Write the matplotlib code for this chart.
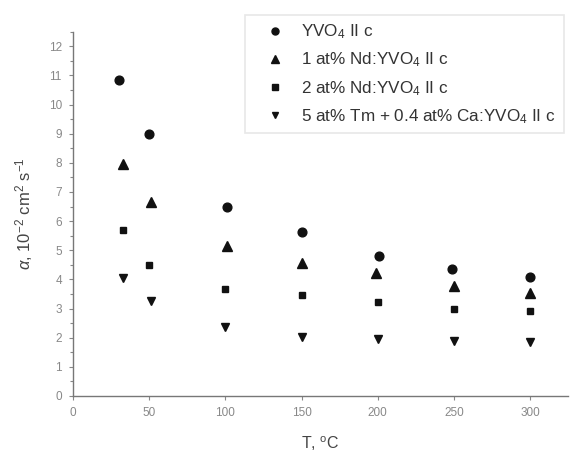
import matplotlib
matplotlib.use("Agg")
import matplotlib.pyplot as plt
from matplotlib.ticker import MultipleLocator

plt.rcParams['font.family'] = ['Liberation Sans', 'DejaVu Sans']
plt.rcParams['mathtext.fontset'] = 'custom'
plt.rcParams['mathtext.rm'] = 'Liberation Sans'
plt.rcParams['mathtext.it'] = 'Liberation Sans:italic'

# Thermal diffusivity vs temperature
t_yvo4 = [30, 50, 101, 150, 201, 249, 300]
a_yvo4 = [10.85, 9.0, 6.48, 5.62, 4.80, 4.37, 4.09]

t_nd1 = [33, 51, 101, 150, 199, 250, 300]
a_nd1 = [7.95, 6.65, 5.14, 4.56, 4.22, 3.78, 3.52]

t_nd2 = [33, 50, 100, 150, 200, 250, 300]
a_nd2 = [5.71, 4.51, 3.68, 3.46, 3.23, 3.00, 2.92]

t_tm = [33, 51, 100, 150, 200, 250, 300]
a_tm = [4.05, 3.25, 2.35, 2.03, 1.94, 1.89, 1.86]

labels = [r"YVO$_4$ II c",
          r"1 at% Nd:YVO$_4$ II c",
          r"2 at% Nd:YVO$_4$ II c",
          r"5 at% Tm + 0.4 at% Ca:YVO$_4$ II c"]

fig = plt.figure(figsize=(5.70, 4.53), dpi=100)
ax = fig.add_axes([0.128, 0.126, 0.869, 0.804])

mk = dict(linestyle='none', color='#111111')
h1, = ax.plot(t_yvo4, a_yvo4, marker='o', markersize=6.3, **mk)
h2, = ax.plot(t_nd1, a_nd1, marker='^', markersize=6.5, **mk)
h3, = ax.plot(t_nd2, a_nd2, marker='s', markersize=4.8, **mk)
h4, = ax.plot(t_tm, a_tm, marker='v', markersize=6.2, **mk)

ax.set_xlim(0, 325)
ax.set_ylim(0, 12.5)
ax.xaxis.set_major_locator(MultipleLocator(50))
ax.yaxis.set_major_locator(MultipleLocator(1))
ax.yaxis.set_minor_locator(MultipleLocator(0.5))

for s in ['top', 'right']:
    ax.spines[s].set_visible(False)
for s in ['left', 'bottom']:
    ax.spines[s].set_color('#777777')
    ax.spines[s].set_linewidth(1.0)

ax.tick_params(axis='both', which='major', colors='#888888', labelcolor='#888888',
               labelsize=8.5, length=3, width=0.8, direction='out', pad=5)
ax.tick_params(axis='y', which='minor', colors='#888888', length=2, width=0.8)

ax.set_xlabel("T, $^{\\rm o}$C", fontsize=11.5, color='#444444', labelpad=11)
ax.set_ylabel(r"$\alpha$, 10$^{-2}$ cm$^{2}$ s$^{-1}$", fontsize=12,
              color='#444444', labelpad=10)

leg = fig.legend([h1, h2, h3, h4], labels, loc='upper left',
                 bbox_to_anchor=(245 / 570, 1 - 15 / 453), frameon=True,
                 fontsize=12.3, handletextpad=0.25, labelspacing=0.55,
                 borderpad=0.45, borderaxespad=0, fancybox=False,
                 handlelength=2.6, markerscale=0.8)
leg.get_frame().set_edgecolor('#e2e2e2')
leg.get_frame().set_linewidth(1.2)
for txt in leg.get_texts():
    txt.set_color('#333333')

fig.savefig("out.png", dpi=100)
